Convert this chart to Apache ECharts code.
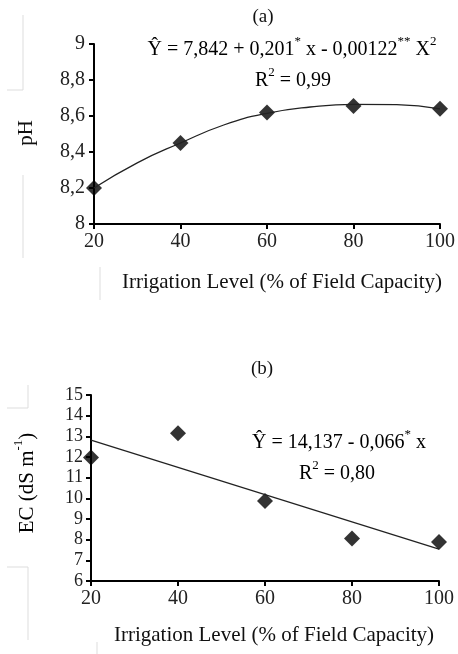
<!DOCTYPE html>
<html>
<head>
<meta charset="utf-8">
<script src="https://cdn.jsdelivr.net/npm/echarts@6/dist/echarts.min.js"></script>
<style>
  html, body { margin: 0; padding: 0; background: #fff; }
  #chart { width: 458px; height: 654px; }
</style>
</head>
<body>
<div id="chart"></div>
<script>
// 灌溉水平 (x轴)
var levels = [20, 40, 60, 80, 100];
// (a) pH 观测值
var phObs = [8.20, 8.45, 8.62, 8.655, 8.64];
// (a) 拟合曲线
var phFitX = [20, 30, 40, 50, 60, 70, 80, 90, 100];
var phFitY = [8.20, 8.34, 8.45, 8.55, 8.615, 8.65, 8.665, 8.663, 8.64];
// (b) EC 观测值
var ecObs = [11.97, 13.15, 9.87, 8.06, 7.89];
// (b) 拟合直线端点
var ecFitX = [20, 100];
var ecFitY = [12.82, 7.54];

var font = 'Liberation Serif';

function pairs(xs, ys) {
    return xs.map(function (x, i) { return [x, ys[i]]; });
}

var chart = echarts.init(document.getElementById('chart'));

var axisCommon = {
    axisLine: { show: true, lineStyle: { color: '#000', width: 2 } },
    axisTick: { show: true, length: 5, lineStyle: { color: '#000', width: 2 } },
    splitLine: { show: false }
};

function xAxis(gridIndex) {
    return Object.assign({}, axisCommon, {
        type: 'value', gridIndex: gridIndex,
        min: 20, max: 100, interval: 20,
        axisLabel: { color: '#222', fontFamily: font, fontSize: 20, margin: 8 }
    });
}

var eqText = { fontSize: 20, fontFamily: font, color: '#111', lineHeight: 30 };
var sup = { fontSize: 13, verticalAlign: 'top', fontFamily: font, color: '#111', lineHeight: 30 };

option = {
    backgroundColor: '#fff',
    animation: false,
    grid: [
        { left: 94, right: 14, top: 44, bottom: 430 },
        { left: 91, right: 19, top: 395, bottom: 73 }
    ],
    xAxis: [xAxis(0), xAxis(1)],
    yAxis: [
        Object.assign({}, axisCommon, {
            type: 'value', gridIndex: 0, min: 8, max: 9, interval: 0.2,
            axisLabel: {
                color: '#222', fontFamily: font, fontSize: 20, margin: 9,
                formatter: function (v) { return String(+v.toFixed(1)).replace('.', ','); }
            }
        }),
        Object.assign({}, axisCommon, {
            type: 'value', gridIndex: 1, min: 6, max: 15, interval: 1,
            axisLabel: { color: '#222', fontFamily: font, fontSize: 18, margin: 8 }
        })
    ],
    series: [
        {
            type: 'line', xAxisIndex: 0, yAxisIndex: 0,
            data: pairs(phFitX, phFitY), smooth: true, showSymbol: false,
            lineStyle: { color: '#222', width: 1.3 }
        },
        {
            type: 'scatter', xAxisIndex: 0, yAxisIndex: 0,
            data: pairs(levels, phObs), symbol: 'diamond', symbolSize: [16, 16],
            itemStyle: { color: '#000' }
        },
        {
            type: 'line', xAxisIndex: 1, yAxisIndex: 1,
            data: pairs(ecFitX, ecFitY), showSymbol: false,
            lineStyle: { color: '#222', width: 1.3 }
        },
        {
            type: 'scatter', xAxisIndex: 1, yAxisIndex: 1,
            data: pairs(levels, ecObs), symbol: 'diamond', symbolSize: [16, 16],
            itemStyle: { color: '#000' }
        }
    ],
    graphic: [
        // 标题
        { type: 'text', x: 263, y: 17, style: { text: '(a)', font: '19px ' + font, fill: '#111', align: 'center', verticalAlign: 'middle' } },
        { type: 'text', x: 262, y: 369, style: { text: '(b)', font: '19px ' + font, fill: '#111', align: 'center', verticalAlign: 'middle' } },
        // 回归方程 (a)
        {
            type: 'text', x: 292, y: 50,
            style: {
                text: '{t|Ŷ = 7,842 + 0,201}{s|*}{t| x - 0,00122}{s|**}{t| X}{s|2}',
                align: 'center', verticalAlign: 'middle',
                rich: { t: eqText, s: sup }
            }
        },
        {
            type: 'text', x: 293, y: 81,
            style: {
                text: '{t|R}{s|2}{t| = 0,99}',
                align: 'center', verticalAlign: 'middle',
                rich: { t: eqText, s: sup }
            }
        },
        // 回归方程 (b)
        {
            type: 'text', x: 339, y: 443,
            style: {
                text: '{t|Ŷ = 14,137 - 0,066}{s|*}{t| x}',
                align: 'center', verticalAlign: 'middle',
                rich: { t: eqText, s: sup }
            }
        },
        {
            type: 'text', x: 337, y: 474,
            style: {
                text: '{t|R}{s|2}{t| = 0,80}',
                align: 'center', verticalAlign: 'middle',
                rich: { t: eqText, s: sup }
            }
        },
        // 坐标轴名称
        { type: 'text', x: 26, y: 133, rotation: Math.PI / 2, style: { text: 'pH', font: '21px ' + font, fill: '#111', align: 'center', verticalAlign: 'middle' } },
        {
            type: 'text', x: 27, y: 483, rotation: Math.PI / 2,
            style: {
                text: '{t|EC (dS m}{s|-1}{t|)}',
                align: 'center', verticalAlign: 'middle',
                rich: {
                    t: { fontSize: 21, fontFamily: font, color: '#111', lineHeight: 30 },
                    s: sup
                }
            }
        },
        { type: 'text', x: 282, y: 282, style: { text: 'Irrigation Level (% of Field Capacity)', font: '21px ' + font, fill: '#111', align: 'center', verticalAlign: 'middle' } },
        { type: 'text', x: 274, y: 635, style: { text: 'Irrigation Level (% of Field Capacity)', font: '21px ' + font, fill: '#111', align: 'center', verticalAlign: 'middle' } },
        // 裁剪残留的浅灰边框
        { type: 'polyline', shape: { points: [[7, 90], [23, 90], [23, 15]] }, style: { stroke: '#ddd', lineWidth: 1, fill: null } },
        { type: 'line', shape: { x1: 23, y1: 175, x2: 23, y2: 258 }, style: { stroke: '#ddd', lineWidth: 1 } },
        { type: 'line', shape: { x1: 100, y1: 267, x2: 100, y2: 300 }, style: { stroke: '#ddd', lineWidth: 1 } },
        { type: 'polyline', shape: { points: [[7, 408], [28, 408], [28, 385]] }, style: { stroke: '#ddd', lineWidth: 1, fill: null } },
        { type: 'polyline', shape: { points: [[7, 567], [28, 567], [28, 640]] }, style: { stroke: '#ddd', lineWidth: 1, fill: null } },
        { type: 'line', shape: { x1: 97, y1: 642, x2: 97, y2: 654 }, style: { stroke: '#ddd', lineWidth: 1 } }
    ]
};

chart.setOption(option);
</script>
</body>
</html>
